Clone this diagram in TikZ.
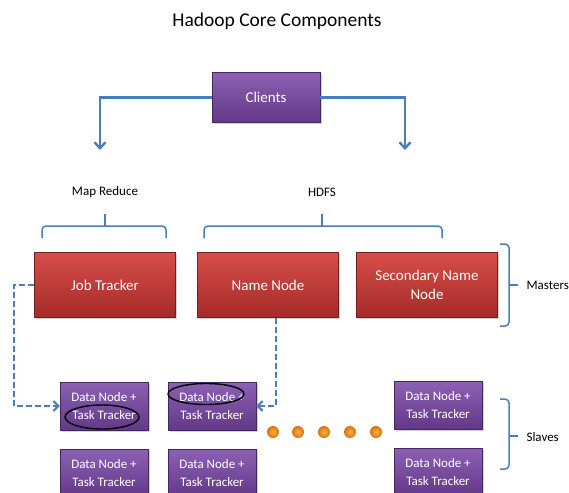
\documentclass[tikz,border=0pt]{standalone}
\usepackage{fontspec}
\setmainfont{Carlito}
\usetikzlibrary{arrows.meta,shadows,shapes.geometric}
\definecolor{linkblue}{HTML}{4A7EBB}
\definecolor{purpletop}{HTML}{8C60B3}
\definecolor{purplebot}{HTML}{633888}
\definecolor{redtop}{HTML}{D64D49}
\definecolor{redbot}{HTML}{A52B28}
\definecolor{dotlight}{HTML}{FFB347}
\definecolor{dotdark}{HTML}{D9700C}
\tikzset{
  box/.style={draw=#1!70!black, line width=0.4pt, inner sep=0pt, align=center,
    text=white, drop shadow={shadow xshift=1.5pt, shadow yshift=-1.5pt, opacity=0.35}},
  purplebox/.style={box=purplebot, top color=purpletop, bottom color=purplebot},
  redbox/.style={box=redbot, top color=redtop, bottom color=redbot},
  slavebox/.style={purplebox, minimum width=88pt, minimum height=48pt,
    font=\fontsize{13}{18.5}\selectfont},
  masterbox/.style={redbox, minimum width=141pt, minimum height=65pt,
    font=\fontsize{15}{19}\selectfont},
  link/.style={draw=linkblue, line width=2.8pt,
    -{Straight Barb[length=6pt,width=11pt,line width=2.4pt]}},
  dashlink/.style={draw=linkblue, line width=2.2pt, dash pattern=on 6pt off 3pt,
    -{Straight Barb[length=5pt,width=10pt,line width=2pt]}},
  bracket/.style={draw=linkblue, line width=1.5pt, rounded corners=4pt},
  tick/.style={draw=linkblue, line width=1.5pt},
  grouplabel/.style={font=\fontsize{13}{15}\selectfont, text=black},
  dot/.style={circle, minimum size=12pt, inner sep=0pt,
    inner color=dotlight, outer color=dotdark},
  ring/.style={draw=black, line width=1.4pt, ellipse, fill=none}
}
\begin{document}
\begin{tikzpicture}[x=1pt,y=-1pt]
  \useasboundingbox (0,0) rectangle (569,492);

  % title
  \node (title) at (277,21) {\fontsize{19.5}{22}\selectfont Hadoop Core Components};

  % clients and the two branches
  \node[purplebox, minimum width=108pt, minimum height=50pt, font=\fontsize{15}{18}\selectfont]
    (clients) at (266,97.5) {Clients};
  \coordinate (mrtip) at (100,150);
  \coordinate (hdfstip) at (405,150);
  \draw[link] (clients.west) -| (mrtip);
  \draw[link] (clients.east) -| (hdfstip);

  % group labels
  \node[grouplabel] (mrlabel) at (105,192) {Map Reduce};
  \node[grouplabel] (hdfslabel) at (322,192) {HDFS};

  % braces under the group labels
  \draw[bracket] (42,238) -- (42,226) -- (105,226);
  \draw[bracket] (166,238) -- (166,226) -- (105,226);
  \draw[tick] (105,227) -- (105,214);
  \draw[bracket] (204,238) -- (204,226) -- (322,226);
  \draw[bracket] (442,238) -- (442,226) -- (322,226);
  \draw[tick] (322,227) -- (322,214);

  % masters
  \node[masterbox] (jt) at (105,285) {Job Tracker};
  \node[masterbox] (nn) at (268,285) {Name Node};
  \node[masterbox] (snn) at (427,285) {Secondary Name\\Node};

  \draw[bracket] (500,244) -- (509,244) -- (509,285) -- (509,326) -- (500,326);
  \draw[tick] (509,285) -- (518,285);
  \node[grouplabel, anchor=west] (masters) at (523,285) {Masters};

  % slaves
  \node[slavebox] (dn1) at (104,406) {Data Node +\\Task Tracker};
  \node[slavebox] (dn2) at (212,406) {Data Node +\\Task Tracker};
  \node[slavebox] (dn3) at (438,405) {Data Node +\\Task Tracker};
  \node[slavebox] (dn4) at (104,473) {Data Node +\\Task Tracker};
  \node[slavebox] (dn5) at (212,473) {Data Node +\\Task Tracker};
  \node[slavebox] (dn6) at (438,472) {Data Node +\\Task Tracker};

  % highlighted roles
  \node[ring, minimum width=74pt, minimum height=24pt] (tt1) at (102,417) {};
  \node[ring, minimum width=76pt, minimum height=21pt] (dnring) at (206,394) {};

  % more slaves in between
  \foreach \i/\x in {1/273,2/298,3/324,4/350,5/376}
    \node[dot] (d\i) at (\x,432) {};

  \draw[bracket] (500,399) -- (509,399) -- (509,436) -- (509,469) -- (500,469);
  \draw[tick] (509,436) -- (518,436);
  \node[grouplabel, anchor=west] (slaves) at (523,437) {Slaves};

  % tracker and name node reach the slaves
  \coordinate (jtout) at (14,285);
  \draw[dashlink] (jt.west) -- (jtout) |- (dn1.west);
  \draw[dashlink] ([xshift=8pt]nn.south) |- (dn2.east);
\end{tikzpicture}
\end{document}
